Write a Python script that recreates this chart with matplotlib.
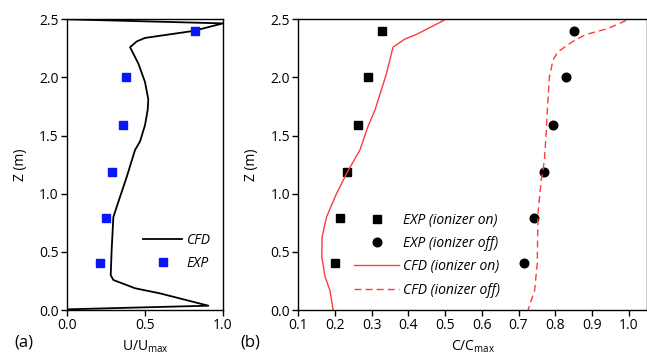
import matplotlib
matplotlib.use("Agg")
import matplotlib.pyplot as plt
from matplotlib.lines import Line2D

plt.rcParams["font.family"] = ["Open Sans", "DejaVu Sans"]
plt.rcParams["font.size"] = 10

# (a) velocity profile
cfd_u = [0.0, 1.0, 0.81, 0.50, 0.447, 0.404, 0.457, 0.50, 0.521, 0.517, 0.50, 0.468,
         0.436, 0.383, 0.34, 0.308, 0.297, 0.286, 0.28, 0.297, 0.436, 0.596, 0.906, 0.008]
cfd_uz = [2.5, 2.465, 2.40, 2.34, 2.31, 2.26, 2.12, 1.96, 1.81, 1.72, 1.59, 1.45,
          1.376, 1.146, 0.974, 0.845, 0.80, 0.516, 0.30, 0.258, 0.187, 0.143, 0.037, 0.006]
exp_u = [0.82, 0.38, 0.36, 0.29, 0.25, 0.21]
exp_z = [2.40, 2.00, 1.59, 1.19, 0.79, 0.40]

# (b) concentration profiles
exp_on = [0.328, 0.290, 0.263, 0.233, 0.215, 0.199]
exp_off = [0.851, 0.830, 0.794, 0.769, 0.741, 0.715]
cfd_on = [0.502, 0.422, 0.390, 0.358, 0.340, 0.309, 0.290, 0.268, 0.236, 0.204,
          0.177, 0.165, 0.164, 0.173, 0.186, 0.195]
cfd_on_z = [2.5, 2.37, 2.33, 2.26, 2.03, 1.72, 1.58, 1.376, 1.20, 1.0,
            0.80, 0.63, 0.458, 0.286, 0.172, 0.0]
cfd_off = [0.993, 0.943, 0.884, 0.848, 0.807, 0.794, 0.784, 0.780, 0.775, 0.771,
           0.766, 0.762, 0.753, 0.751, 0.744, 0.726]
cfd_off_z = [2.49, 2.42, 2.37, 2.31, 2.22, 2.15, 2.0, 1.80, 1.51, 1.31,
             1.18, 1.12, 0.83, 0.40, 0.17, 0.0]

red = "#ff3b3b"

fig = plt.figure(figsize=(6.47, 3.63), dpi=100)
ax1 = fig.add_axes([0.1036, 0.146, 0.2411, 0.8008])
ax2 = fig.add_axes([0.461, 0.146, 0.539, 0.8008])

ax1.plot(cfd_u, cfd_uz, color="black", lw=1.3, label="CFD")
ax1.plot(exp_u, exp_z, ls="none", marker="s", ms=5.8, color="#0a14ff", label="EXP")
ax1.set_xlim(0, 1.0)
ax1.set_ylim(0, 2.5)
ax1.set_xticks([0.0, 0.5, 1.0])
ax1.set_yticks([0.0, 0.5, 1.0, 1.5, 2.0, 2.5])
ax1.xaxis.set_major_formatter(plt.FormatStrFormatter("%.1f"))
ax1.yaxis.set_major_formatter(plt.FormatStrFormatter("%.1f"))
ax1.set_xlabel(r"U/U$_{\mathregular{max}}$", labelpad=4)
ax1.set_ylabel("Z (m)", labelpad=8)
leg1 = ax1.legend(loc="lower right", bbox_to_anchor=(1.0, 0.09), frameon=False,
                  handlelength=2.8, handletextpad=0.3, labelspacing=0.6)
for t in leg1.get_texts():
    t.set_style("italic")

ax2.plot(exp_on, exp_z, ls="none", marker="s", ms=5.8, color="black")
ax2.plot(exp_off, exp_z, ls="none", marker="o", ms=6.2, color="black")
ax2.plot(cfd_on, cfd_on_z, color=red, lw=1.0)
ax2.plot(cfd_off, cfd_off_z, color=red, lw=1.0, ls=(0, (5, 3)))
ax2.set_xlim(0.1, 1.05)
ax2.set_ylim(0, 2.5)
ax2.set_xticks([0.1, 0.2, 0.3, 0.4, 0.5, 0.6, 0.7, 0.8, 0.9, 1.0])
ax2.set_yticks([0.0, 0.5, 1.0, 1.5, 2.0, 2.5])
ax2.xaxis.set_major_formatter(plt.FormatStrFormatter("%.1f"))
ax2.yaxis.set_major_formatter(plt.FormatStrFormatter("%.1f"))
ax2.set_xlabel(r"C/C$_{\mathregular{max}}$", labelpad=4)
ax2.set_ylabel("Z (m)", labelpad=8)

handles = [
    Line2D([], [], ls="none", marker="s", ms=5.8, color="black"),
    Line2D([], [], ls="none", marker="o", ms=6.2, color="black"),
    Line2D([], [], color=red, lw=1.0),
    Line2D([], [], color=red, lw=1.0, ls=(0, (5, 3))),
]
labels = ["EXP (ionizer on)", "EXP (ionizer off)", "CFD (ionizer on)", "CFD (ionizer off)"]
leg2 = ax2.legend(handles, labels, loc="lower left", bbox_to_anchor=(0.125, 0.0),
                  frameon=False, handlelength=3.2, handletextpad=0.3, labelspacing=0.6)
for t in leg2.get_texts():
    t.set_style("italic")

for ax in (ax1, ax2):
    ax.tick_params(direction="out", length=4, width=1, labelsize=10, pad=2)
    for s in ax.spines.values():
        s.set_linewidth(1.0)

fig.text(0.022, 0.045, "(a)", fontsize=12)
fig.text(0.372, 0.045, "(b)", fontsize=12)

fig.savefig("out.png", dpi=100)
